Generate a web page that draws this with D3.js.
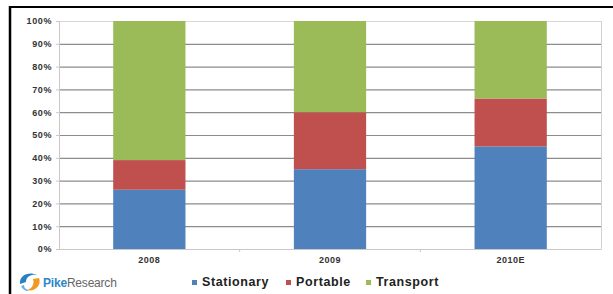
<!DOCTYPE html>
<html>
<head>
<meta charset="utf-8">
<script src="https://cdn.jsdelivr.net/npm/d3@7"></script>
<style>
  body { margin: 0; background: #fff; }
  text { font-family: "Liberation Sans", Arial, sans-serif; }
</style>
</head>
<body>
<div id="chart"></div>
<script>
// data
var years = ["2008", "2009", "2010E"];
var seriesNames = ["Stationary", "Portable", "Transport"];
var stationary = [26, 35, 45];
var portable = [13, 25, 21];
var transport = [61, 40, 34];
var yTicks = [0, 10, 20, 30, 40, 50, 60, 70, 80, 90, 100];
var colors = ["#4F81BD", "#C0504D", "#9BBB59"];

var svgWidth = 613;
var svgHeight = 294;

var margin = { top: 21, right: 12, bottom: 45, left: 59 };
var width = svgWidth - margin.left - margin.right;
var height = svgHeight - margin.top - margin.bottom;

var svg = d3.select("#chart")
  .append("svg")
  .attr("width", svgWidth)
  .attr("height", svgHeight);

// frame
svg.append("line").attr("x1", 10).attr("x2", 613).attr("y1", 7).attr("y2", 7)
  .attr("stroke", "#000").attr("stroke-width", 2);
svg.append("line").attr("x1", 10).attr("x2", 10).attr("y1", 6).attr("y2", 294)
  .attr("stroke", "#000").attr("stroke-width", 2.5);

var chartGroup = svg.append("g")
  .attr("transform", `translate(${margin.left}, ${margin.top})`);

var table = years.map(function(y, i) {
  return { year: y, Stationary: stationary[i], Portable: portable[i], Transport: transport[i] };
});
var stacked = d3.stack().keys(seriesNames)(table);

var x = d3.scaleBand()
  .domain(years)
  .range([0, width])
  .paddingInner(0.6)
  .paddingOuter(0.3);

var y = d3.scaleLinear()
  .domain([0, 100])
  .range([height, 0]);

// gridlines
chartGroup.append("g")
  .selectAll("line")
  .data(yTicks.slice(1))
  .enter()
  .append("line")
  .attr("x1", 0)
  .attr("x2", width)
  .attr("y1", d => y(d) + 0.5)
  .attr("y2", d => y(d) + 0.5)
  .attr("stroke", d => d === 100 ? "#d8d8d8" : "#8c8c8c")
  .attr("stroke-width", 1.2);

// right border of plot
chartGroup.append("line")
  .attr("x1", width + 0.5).attr("x2", width + 0.5)
  .attr("y1", 0).attr("y2", height)
  .attr("stroke", "#d0d0d0");

// bars
chartGroup.selectAll(".series")
  .data(stacked)
  .enter()
  .append("g")
  .attr("fill", (d, i) => colors[i])
  .selectAll("rect")
  .data(d => d)
  .enter()
  .append("rect")
  .attr("x", d => x(d.data.year))
  .attr("y", d => y(d[1]))
  .attr("width", x.bandwidth())
  .attr("height", d => y(d[0]) - y(d[1]));

// y axis
var leftAxis = d3.axisLeft(y)
  .tickValues(yTicks)
  .tickSize(3)
  .tickPadding(4)
  .tickFormat(d => d + "%");

var yAxis = chartGroup.append("g").call(leftAxis);
yAxis.select(".domain").attr("stroke", "#c8c8c8");
yAxis.selectAll(".tick line").attr("stroke", "#c8c8c8");
yAxis.selectAll("text")
  .style("font-size", "9px")
  .style("font-weight", "bold")
  .style("letter-spacing", "0.6px")
  .attr("fill", "#333");

// x axis
var bottomAxis = d3.axisBottom(x).tickSize(0).tickPadding(8);
var xAxis = chartGroup.append("g")
  .attr("transform", `translate(0, ${height})`)
  .call(bottomAxis);
xAxis.select(".domain").attr("stroke", "#c8c8c8");
xAxis.selectAll("text")
  .style("font-size", "9px")
  .style("font-weight", "bold")
  .style("letter-spacing", "0.5px")
  .attr("fill", "#333");

// category separator ticks
var step = x.step();
chartGroup.append("g")
  .selectAll("line")
  .data([1, 2])
  .enter()
  .append("line")
  .attr("x1", d => x(years[0]) - step * 0.3 + d * step)
  .attr("x2", d => x(years[0]) - step * 0.3 + d * step)
  .attr("y1", height)
  .attr("y2", height + 3)
  .attr("stroke", "#c8c8c8");

// legend
var legendX = [192, 286, 366];
var legend = svg.append("g").attr("transform", "translate(0, 283)");
var items = legend.selectAll("g")
  .data(seriesNames)
  .enter()
  .append("g")
  .attr("transform", (d, i) => `translate(${legendX[i]}, 0)`);
items.append("rect")
  .attr("x", 0).attr("y", -3)
  .attr("width", 5).attr("height", 5)
  .attr("fill", (d, i) => colors[i]);
items.append("text")
  .attr("x", 10).attr("y", 0)
  .attr("dominant-baseline", "middle")
  .style("font-size", "12.5px")
  .style("font-weight", "bold")
  .style("letter-spacing", "0.6px")
  .attr("fill", "#222")
  .text(d => d);

// PikeResearch logo
var logo = svg.append("g").attr("transform", "translate(30, 282)");
logo.append("path")
  .attr("d", "M-10,2 C-11,-7 -1,-11 7,-7 C2,-8 -4,-6 -4,0 Z")
  .attr("fill", "#2b7fc3");
logo.append("path")
  .attr("d", "M9,-4 C12,4 4,10 -3,8 C1,7 5,3 3,-3 Z")
  .attr("fill", "#f29a1f");
logo.append("path")
  .attr("d", "M-9,4 C-7,9 0,10 -2,8 C-5,7 -6,5 -6,3 Z")
  .attr("fill", "#6aaee0");
logo.append("text")
  .attr("x", 13).attr("y", 5)
  .style("font-size", "12px")
  .style("letter-spacing", "-0.2px")
  .html('<tspan fill="#2e86c8" font-weight="bold">Pike</tspan><tspan fill="#666">Research</tspan>');
</script>
</body>
</html>
